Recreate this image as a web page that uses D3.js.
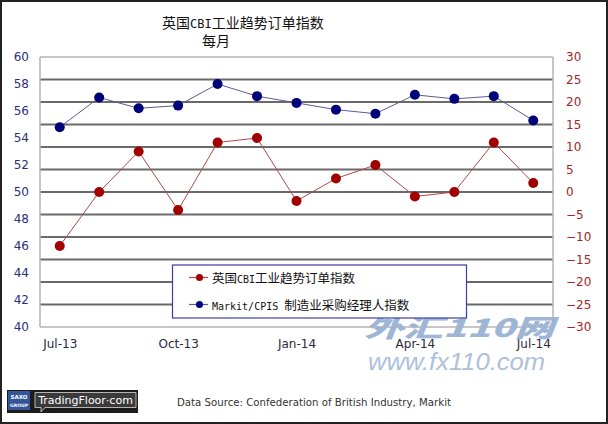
<!DOCTYPE html>
<html>
<head>
<meta charset="utf-8">
<script src="https://cdn.jsdelivr.net/npm/d3@7"></script>
<style>
  body { margin: 0; background: #fff; }
  svg { display: block; }
</style>
</head>
<body>
<div id="chart"></div>
<script>
// chart size
var svgWidth = 608;
var svgHeight = 424;

// data
var months = ["Jul-13", "Aug-13", "Sep-13", "Oct-13", "Nov-13", "Dec-13", "Jan-14",
  "Feb-14", "Mar-14", "Apr-14", "May-14", "Jun-14", "Jul-14"];
var cbiOrders = [-12, 0, 9, -4, 11, 12, -2, 3, 6, -1, 0, 11, 2];
var markitPmi = [54.8, 57.0, 56.2, 56.4, 58.0, 57.1, 56.6, 56.1, 55.8, 57.2, 56.9, 57.1, 55.3];
var xTickLabels = ["Jul-13", "Oct-13", "Jan-14", "Apr-14", "Jul-14"];
var leftTicks = [40, 42, 44, 46, 48, 50, 52, 54, 56, 58, 60];
var rightTicks = [-30, -25, -20, -15, -10, -5, 0, 5, 10, 15, 20, 25, 30];

// plot area
var plot = { left: 40, right: 553, top: 57, bottom: 327 };

var svg = d3.select("#chart")
  .append("svg")
  .attr("width", svgWidth)
  .attr("height", svgHeight);

svg.append("rect")
  .attr("x", 0).attr("y", 0)
  .attr("width", svgWidth).attr("height", svgHeight)
  .attr("fill", "#fff");

// scales
var xScale = d3.scalePoint()
  .domain(months)
  .range([plot.left, plot.right])
  .padding(0.5);

var yLeft = d3.scaleLinear()
  .domain([40, 60])
  .range([plot.bottom, plot.top]);

var yRight = d3.scaleLinear()
  .domain([-30, 30])
  .range([plot.bottom, plot.top]);

// gridlines follow the right axis
svg.append("g")
  .selectAll("line")
  .data(rightTicks)
  .enter()
  .append("line")
  .attr("x1", plot.left)
  .attr("x2", plot.right)
  .attr("y1", d => yRight(d))
  .attr("y2", d => yRight(d))
  .attr("stroke", d => (d === 30 || d === -30) ? "#b4b4b4" : "#6a6a6a")
  .attr("stroke-width", d => (d === 30 || d === -30) ? 1.5 : 2);

// side lines
svg.append("line")
  .attr("x1", plot.left).attr("x2", plot.left)
  .attr("y1", plot.top).attr("y2", plot.bottom)
  .attr("stroke", "#b4b4b4").attr("stroke-width", 1.5);
svg.append("line")
  .attr("x1", plot.right).attr("x2", plot.right)
  .attr("y1", plot.top).attr("y2", plot.bottom)
  .attr("stroke", "#b4b4b4").attr("stroke-width", 1.5);

// watermark sits under the labels
svg.append("text")
  .attr("x", 364)
  .attr("y", 337)
  .attr("textLength", 190)
  .attr("lengthAdjust", "spacingAndGlyphs")
  .attr("fill", "#9fb5d6")
  .style("font-family", "'Noto Sans CJK SC', sans-serif")
  .style("font-weight", "900")
  .style("font-style", "italic")
  .style("font-size", "25px")
  .text("外汇110网");

svg.append("text")
  .attr("x", 368)
  .attr("y", 370)
  .attr("textLength", 177)
  .attr("lengthAdjust", "spacingAndGlyphs")
  .attr("fill", "#adc0dc")
  .style("font-family", "'Liberation Sans', sans-serif")
  .style("font-style", "italic")
  .style("font-size", "24px")
  .text("www.fx110.com");

// left axis labels
var leftAxis = d3.axisLeft(yLeft).tickValues(leftTicks).tickSize(0).tickPadding(11);
var gLeft = svg.append("g")
  .attr("transform", `translate(${plot.left}, 0)`)
  .call(leftAxis);
gLeft.select(".domain").remove();
gLeft.selectAll("text")
  .attr("fill", "#2e2e7a")
  .style("font-family", "'DejaVu Sans', sans-serif")
  .style("font-size", "12px");

// right axis labels
var rightAxis = d3.axisRight(yRight).tickValues(rightTicks).tickSize(0).tickPadding(13);
var gRight = svg.append("g")
  .attr("transform", `translate(${plot.right}, 0)`)
  .call(rightAxis);
gRight.select(".domain").remove();
gRight.selectAll("text")
  .attr("fill", "#a02828")
  .style("font-family", "'DejaVu Sans', sans-serif")
  .style("font-size", "12px");

// bottom axis labels
var bottomAxis = d3.axisBottom(xScale).tickValues(xTickLabels).tickSize(0).tickPadding(12);
var gBottom = svg.append("g")
  .attr("transform", `translate(0, ${plot.bottom})`)
  .call(bottomAxis);
gBottom.select(".domain").remove();
gBottom.selectAll("text")
  .attr("fill", "#2a2a3a")
  .style("font-family", "'DejaVu Sans', sans-serif")
  .style("font-size", "12px");

// lines
var pmiLine = d3.line()
  .x((d, i) => xScale(months[i]))
  .y(d => yLeft(d));
var cbiLine = d3.line()
  .x((d, i) => xScale(months[i]))
  .y(d => yRight(d));

svg.append("path")
  .datum(markitPmi)
  .attr("d", pmiLine)
  .attr("fill", "none")
  .attr("stroke", "#5c5c94")
  .attr("stroke-width", 1);

svg.append("path")
  .datum(cbiOrders)
  .attr("d", cbiLine)
  .attr("fill", "none")
  .attr("stroke", "#b04848")
  .attr("stroke-width", 1);

svg.append("g")
  .selectAll("circle")
  .data(markitPmi)
  .enter()
  .append("circle")
  .attr("cx", (d, i) => xScale(months[i]))
  .attr("cy", d => yLeft(d))
  .attr("r", 5)
  .attr("fill", "#00007a");

svg.append("g")
  .selectAll("circle")
  .data(cbiOrders)
  .enter()
  .append("circle")
  .attr("cx", (d, i) => xScale(months[i]))
  .attr("cy", d => yRight(d))
  .attr("r", 5)
  .attr("fill", "#a00000");

// title
var title = svg.append("text")
  .attr("x", 162)
  .attr("y", 28)
  .attr("fill", "#111")
  .style("font-family", "'Noto Sans CJK SC', sans-serif")
  .style("font-size", "14px");
title.append("tspan").text("英国");
title.append("tspan").style("font-family", "'DejaVu Sans Mono', monospace").style("font-size", "12px").text("CBI");
title.append("tspan").text("工业趋势订单指数");

svg.append("text")
  .attr("x", 202)
  .attr("y", 46)
  .attr("fill", "#111")
  .style("font-family", "'Noto Sans CJK SC', sans-serif")
  .style("font-size", "14px")
  .text("每月");

// legend
var legend = svg.append("g");
legend.append("rect")
  .attr("x", 172.5).attr("y", 265)
  .attr("width", 294).attr("height", 53)
  .attr("fill", "#fff")
  .attr("stroke", "#3c3caa")
  .attr("stroke-width", 1.2);

var legendItems = [
  { pre: "英国", mono: "CBI", post: "工业趋势订单指数", line: "#b04848", dot: "#a00000", y: 277.5 },
  { pre: "", mono: "Markit/CPIS ", post: "制造业采购经理人指数", line: "#5c5c94", dot: "#00007a", y: 304.5 }
];
legendItems.forEach(function(item) {
  legend.append("line")
    .attr("x1", 189).attr("x2", 208)
    .attr("y1", item.y).attr("y2", item.y)
    .attr("stroke", item.line).attr("stroke-width", 1.2);
  legend.append("circle")
    .attr("cx", 199.5).attr("cy", item.y).attr("r", 3.5)
    .attr("fill", item.dot);
  var t = legend.append("text")
    .attr("x", 212)
    .attr("y", item.y + 5)
    .attr("fill", "#111")
    .style("font-family", "'Noto Sans CJK SC', sans-serif")
    .style("font-size", "12.5px");
  if (item.pre) t.append("tspan").text(item.pre);
  t.append("tspan").style("font-family", "'DejaVu Sans Mono', monospace").style("font-size", "10px").text(item.mono);
  t.append("tspan").text(item.post);
});

// data source
svg.append("text")
  .attr("x", 177)
  .attr("y", 406)
  .attr("textLength", 274)
  .attr("lengthAdjust", "spacingAndGlyphs")
  .attr("fill", "#333")
  .style("font-family", "'DejaVu Sans', sans-serif")
  .style("font-size", "11px")
  .text("Data Source: Confederation of British Industry, Markit");

// logo
var logo = svg.append("g");
logo.append("rect")
  .attr("x", 7).attr("y", 390).attr("width", 131).attr("height", 23)
  .attr("fill", "#1c1c1c");
logo.append("rect")
  .attr("x", 8).attr("y", 391).attr("width", 22).attr("height", 19)
  .attr("fill", "#34559a");
logo.append("text")
  .attr("x", 19).attr("y", 398.5)
  .attr("text-anchor", "middle")
  .attr("fill", "#fff")
  .style("font-family", "'DejaVu Sans', sans-serif")
  .style("font-size", "5.5px")
  .style("font-weight", "bold")
  .text("SAXO");
logo.append("text")
  .attr("x", 19).attr("y", 407)
  .attr("text-anchor", "middle")
  .attr("fill", "#fff")
  .style("font-family", "'DejaVu Sans', sans-serif")
  .style("font-size", "4.5px")
  .style("font-weight", "bold")
  .text("GROUP");
logo.append("path")
  .attr("d", "M35,392.5 H136 V407.5 H45 L41,412 L41,407.5 H35 Z")
  .attr("fill", "#3a3a3a")
  .attr("stroke", "#d8d8d8")
  .attr("stroke-width", 0.8);
logo.append("text")
  .attr("x", 85.5).attr("y", 404)
  .attr("text-anchor", "middle")
  .attr("fill", "#fff")
  .style("font-family", "'DejaVu Sans', sans-serif")
  .style("font-size", "11px")
  .text("TradingFloor·com");

// outer frame
svg.append("rect")
  .attr("x", 1).attr("y", 1)
  .attr("width", svgWidth - 2).attr("height", svgHeight - 2)
  .attr("fill", "none")
  .attr("stroke", "#222")
  .attr("stroke-width", 2);
</script>
</body>
</html>
